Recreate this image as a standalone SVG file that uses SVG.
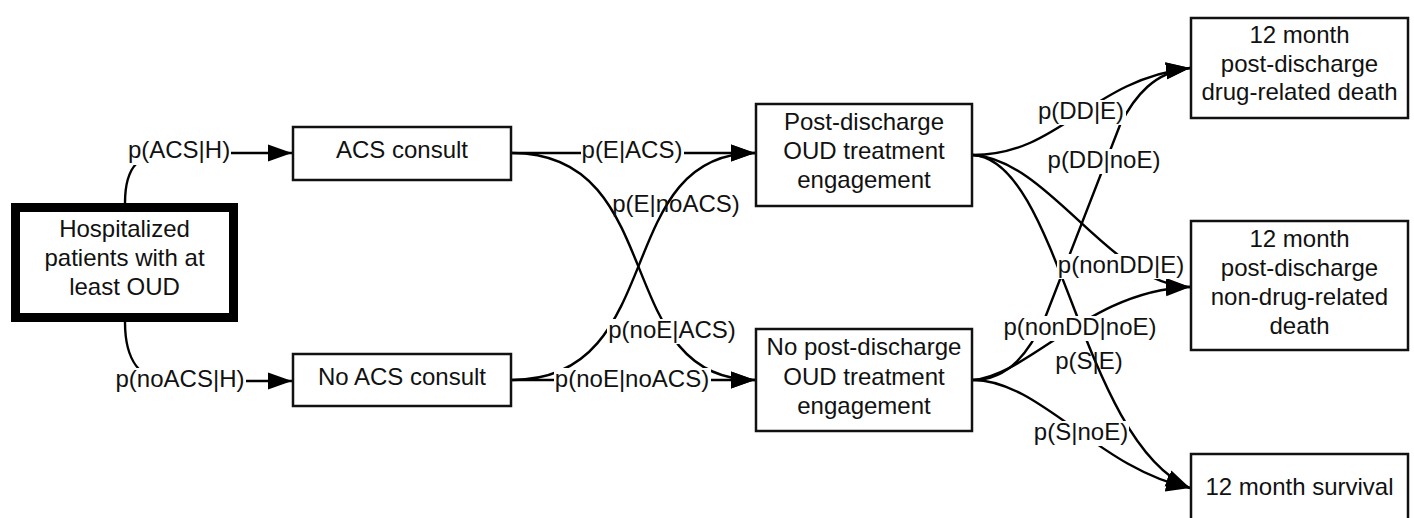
<svg xmlns="http://www.w3.org/2000/svg" width="1414" height="518" viewBox="0 0 1414 518">
<defs>
<marker id="arr" markerUnits="userSpaceOnUse" markerWidth="26" markerHeight="18" refX="24" refY="8.5" orient="auto" viewBox="0 0 26 17">
<path d="M0,0 L24,8.5 L0,17 z" fill="#000"/>
</marker>
<style>
.box{fill:#fff;stroke:#111;stroke-width:2.5}
.thick{fill:#fff;stroke:#000;stroke-width:9}
.t{font-family:"Liberation Sans",Arial,sans-serif;font-size:24px;fill:#111;text-anchor:middle}
.ca{fill:none;stroke:#000;stroke-width:2.4;marker-end:url(#arr)}
.m{fill:#fff;stroke:none}
</style>
</defs>
<rect width="1414" height="518" fill="#fff"/>

<g id="connectors">
<path class="ca" d="M125,203 C125,165 140,153 170,153 L292,153"/>
<path class="ca" d="M125,322 C125,360 140,381 170,381 L292,381"/>
<path class="ca" d="M512,153 L755,153"/>
<path class="ca" d="M512,153 C670,153 610,380 755,380"/>
<path class="ca" d="M512,380 C670,380 610,153 755,153"/>
<path class="ca" d="M512,380 L755,380"/>
<path class="ca" d="M973,155 C1060,155 1090,80 1190,68"/>
<path class="ca" d="M973,155 C1050,160 1110,285 1190,287"/>
<path class="ca" d="M973,155 C1060,160 1080,440 1190,488"/>
<path class="ca" d="M973,380 C1010,380 1030,350 1045,318 L1120,125 C1135,95 1155,72 1190,68"/>
<path class="ca" d="M973,380 C1030,375 1090,290 1190,287"/>
<path class="ca" d="M973,380 C1040,380 1100,470 1190,488"/>
</g>

<g id="labels">
<rect class="m" x="127" y="139" width="104" height="26"/>
<text class="t" x="179" y="158">p(ACS|H)</text>
<rect class="m" x="114" y="368" width="132" height="25"/>
<text class="t" x="180" y="387">p(noACS|H)</text>
<rect class="m" x="581" y="139" width="103" height="26"/>
<text class="t" x="632" y="158">p(E|ACS)</text>
<text class="t" x="676" y="212">p(E|noACS)</text>
<rect class="m" x="607" y="319" width="131" height="25"/>
<text class="t" x="672" y="338">p(noE|ACS)</text>
<rect class="m" x="554" y="368" width="157" height="25"/>
<text class="t" x="632" y="387">p(noE|noACS)</text>
<rect class="m" x="1037" y="100" width="89" height="25"/>
<text class="t" x="1081" y="119">p(DD|E)</text>
<rect class="m" x="1046" y="149" width="116" height="25"/>
<text class="t" x="1104" y="168">p(DD|noE)</text>
<rect class="m" x="1057" y="254" width="129" height="25"/>
<text class="t" x="1121" y="273">p(nonDD|E)</text>
<rect class="m" x="1002" y="316" width="156" height="25"/>
<text class="t" x="1080" y="335">p(nonDD|noE)</text>
<text class="t" x="1089" y="369">p(S|E)</text>
<rect class="m" x="1034" y="421" width="95" height="25"/>
<text class="t" x="1081" y="440">p(S|noE)</text>
</g>

<g id="hospitalized">
<rect class="thick" x="15.5" y="207.5" width="218" height="110"/>
<text class="t" x="124.5" y="237">Hospitalized</text>
<text class="t" x="124.5" y="266">patients with at</text>
<text class="t" x="124.5" y="295">least OUD</text>
</g>
<g id="acs">
<rect class="box" x="293" y="127" width="218" height="53"/>
<text class="t" x="402" y="158">ACS consult</text>
</g>
<g id="noacs">
<rect class="box" x="293" y="354" width="218" height="52"/>
<text class="t" x="402" y="385">No ACS consult</text>
</g>
<g id="engaged">
<rect class="box" x="756" y="104" width="216" height="102"/>
<text class="t" x="864" y="130">Post-discharge</text>
<text class="t" x="864" y="159">OUD treatment</text>
<text class="t" x="864" y="188">engagement</text>
</g>
<g id="notengaged">
<rect class="box" x="756" y="329" width="216" height="102"/>
<text class="t" x="864" y="355">No post-discharge</text>
<text class="t" x="864" y="385">OUD treatment</text>
<text class="t" x="864" y="414">engagement</text>
</g>
<g id="drugdeath">
<rect class="box" x="1191" y="18" width="217" height="100"/>
<text class="t" x="1299.5" y="43">12 month</text>
<text class="t" x="1299.5" y="72">post-discharge</text>
<text class="t" x="1299.5" y="100">drug-related death</text>
</g>
<g id="nondrugdeath">
<rect class="box" x="1191" y="221" width="217" height="129"/>
<text class="t" x="1299.5" y="247">12 month</text>
<text class="t" x="1299.5" y="276">post-discharge</text>
<text class="t" x="1299.5" y="305">non-drug-related</text>
<text class="t" x="1299.5" y="334">death</text>
</g>
<g id="survival">
<rect class="box" x="1191" y="454" width="217" height="80"/>
<text class="t" x="1299.5" y="495">12 month survival</text>
</g>
</svg>
